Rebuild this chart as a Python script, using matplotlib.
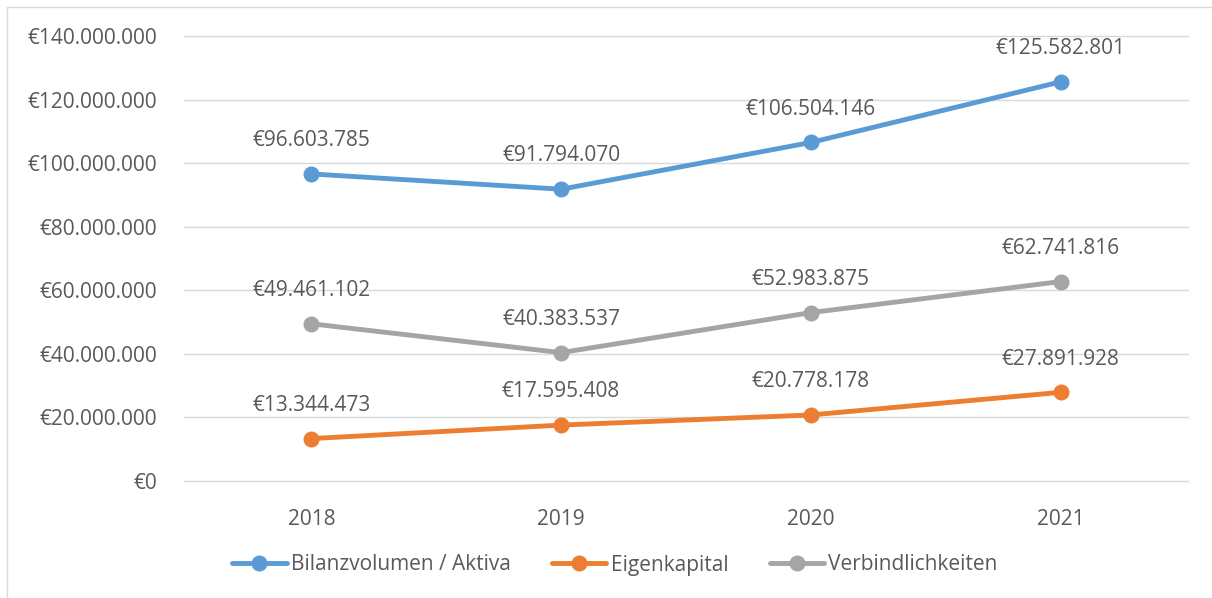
import matplotlib
matplotlib.use('Agg')

import matplotlib.pyplot as plt
from matplotlib.patches import Rectangle

# data
years = ['2018', '2019', '2020', '2021']
bilanz = [96603785, 91794070, 106504146, 125582801]
eigen = [13344473, 17595408, 20778178, 27891928]
verb = [49461102, 40383537, 52983875, 62741816]
series_names = ['Bilanzvolumen / Aktiva', 'Eigenkapital', 'Verbindlichkeiten']
colors = ['#5B9BD5', '#ED7D31', '#A5A5A5']

TXT = '#595959'
FS = 15
plt.rcParams['font.family'] = ['Open Sans', 'DejaVu Sans']


def euro(v):
    return '€' + f'{int(v):,}'.replace(',', '.')


W, H = 1212, 598
fig = plt.figure(figsize=(W / 100, H / 100), dpi=100)
ax = fig.add_axes([184 / W, 117 / H, (1188 - 184) / W, (481 - 36) / H])

x = range(len(years))
for vals, name, c in zip([bilanz, eigen, verb], series_names, colors):
    ax.plot(x, vals, color=c, lw=3.5, marker='o', ms=10.5, label=name,
            solid_capstyle='round', zorder=3)
    for xi, v in zip(x, vals):
        ax.annotate(euro(v), (xi, v), xytext=(0, 24), textcoords='offset points',
                    ha='center', va='center', fontsize=FS, color=TXT)

ax.set_xlim(-0.51, 3.51)
ax.set_ylim(0, 140000000)
ax.set_yticks(range(0, 140000001, 20000000))
ax.set_yticklabels([euro(v) for v in range(0, 140000001, 20000000)])
ax.set_xticks(list(x))
ax.set_xticklabels(years)
ax.tick_params(length=0, labelsize=FS, labelcolor=TXT)
ax.tick_params(axis='y', pad=19)
ax.tick_params(axis='x', pad=20)
ax.grid(axis='y', color='#D9D9D9', lw=1)
for gl in ax.get_ygridlines():
    gl.set_clip_on(False)
ax.set_axisbelow(True)
for s in ax.spines.values():
    s.set_visible(False)

leg = fig.legend(loc='center', bbox_to_anchor=(615 / W, 1 - 565 / H), ncol=3,
                 frameon=False, fontsize=FS, handlelength=2.6,
                 columnspacing=2.0, handletextpad=0.2)
for t in leg.get_texts():
    t.set_color(TXT)

fig.patches.append(Rectangle((7 / W, -0.1), 1.2, 1 - 7 / H + 0.1,
                             transform=fig.transFigure, fill=False,
                             ec='#D9D9D9', lw=1))

fig.savefig('out.png', dpi=100)
